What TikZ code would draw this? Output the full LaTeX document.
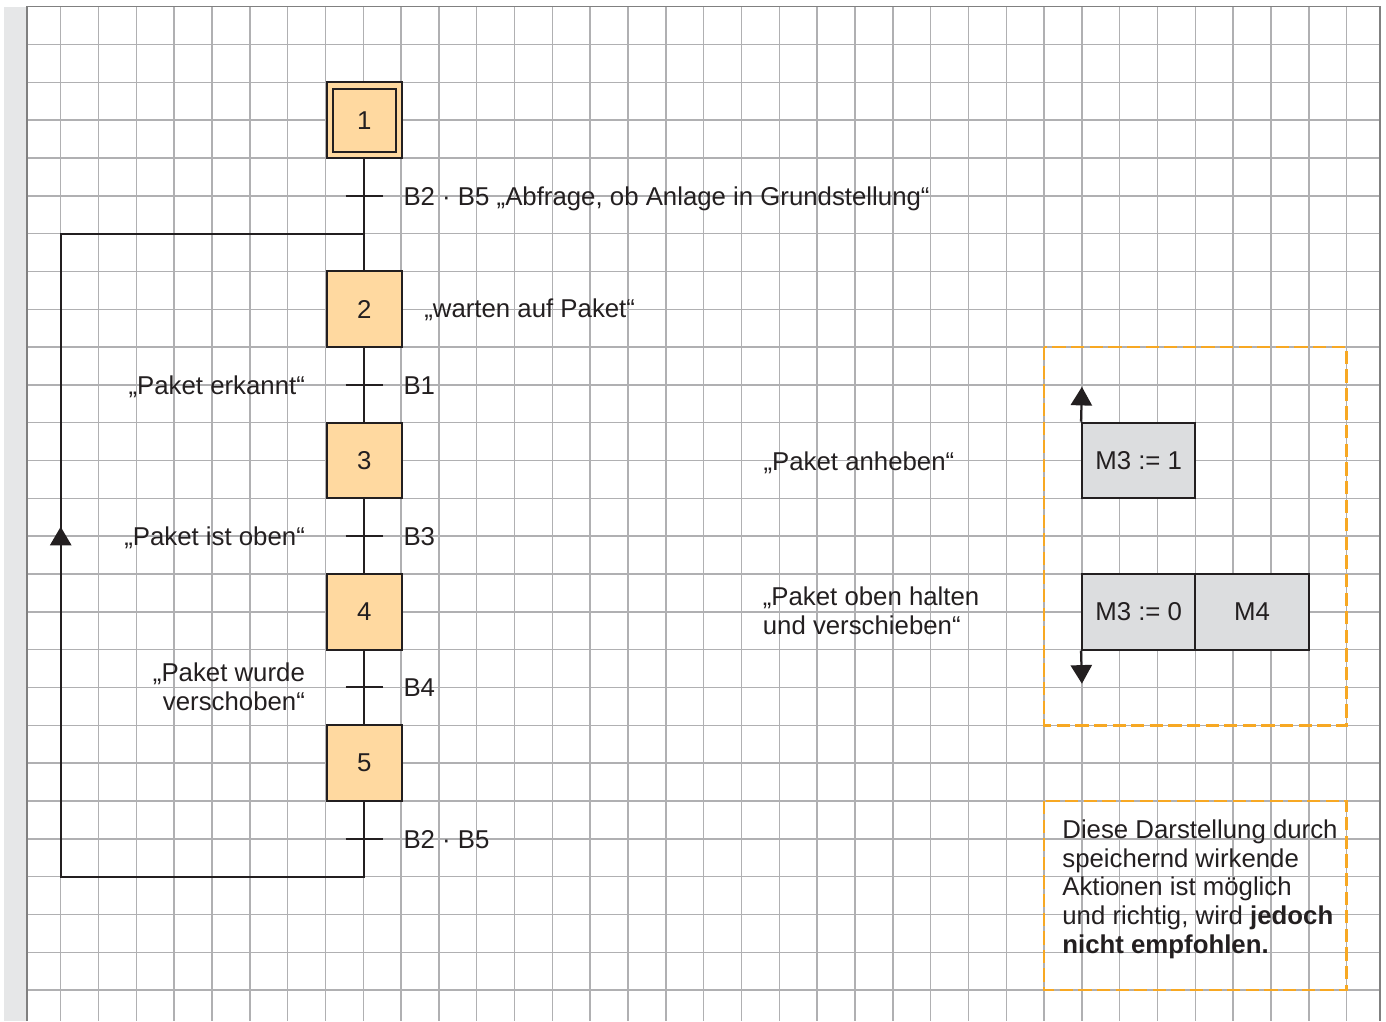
\documentclass[tikz,border=0pt]{standalone}
\usepackage{fontspec}
\setmainfont{Liberation Sans}
\usetikzlibrary{arrows.meta}
\definecolor{ink}{HTML}{231F20}
\definecolor{stepfill}{HTML}{FFD9A0}
\definecolor{actfill}{HTML}{DCDDDF}
\definecolor{dashorange}{HTML}{F7A823}
\definecolor{gridgray}{HTML}{B0B0B2}
\definecolor{stripgray}{HTML}{E6E7E8}
\begin{document}
\begin{tikzpicture}[x=0.5cm,y=0.5cm,
  font=\fontsize{9.7}{10.8}\selectfont, text=ink,
  link/.style={draw=ink, line width=0.75pt},
  stepbox/.style={draw=ink, fill=stepfill, line width=0.75pt, minimum size=1cm, inner sep=0pt},
  actbox/.style={draw=ink, fill=actfill, line width=0.75pt, minimum width=1.5cm, minimum height=1cm, inner sep=0pt},
  frame/.style={draw=dashorange, line width=0.9pt, dash pattern=on 5pt off 2pt},
  tip/.style={-{Triangle[width=8pt,length=7pt]}},
  lbl/.style={inner sep=0pt}]
\useasboundingbox (-1.605,0.177) rectangle (35.04,-26.82);
% paper
\fill[stripgray] (-1.5,0) rectangle (-0.891,-26.82);
\foreach \x in {0,...,34} \draw[gridgray, line width=0.55pt] (\x,0) -- (\x,-26.82);
\foreach \y in {0,...,26} \draw[gridgray, line width=0.55pt] (-0.891,-\y) -- (34.88,-\y);
\draw[gray, line width=0.6pt] (-0.891,-26.82) -- (-0.891,0) -- (34.88,0) -- (34.88,-26.82);
% steps
\node[stepbox] (s1) at (8.03,-3) {1};
\node[draw=ink, line width=0.75pt, minimum size=0.83cm, inner sep=0pt] (s1i) at (s1) {};
\node[stepbox] (s2) at (8.03,-8) {2};
\node[stepbox] (s3) at (8.03,-12) {3};
\node[stepbox] (s4) at (8.03,-16) {4};
\node[stepbox] (s5) at (8.03,-20) {5};
\coordinate (j1) at (8.03,-6);
\coordinate (j5) at (8.03,-23);
\coordinate (c1) at (0,-23);
\coordinate (c2) at (0,-6);
\coordinate (a1) at (0,-13.75);
\draw[link] (s1) -- (s2);
\draw[link] (s2) -- (s3);
\draw[link] (s3) -- (s4);
\draw[link] (s4) -- (s5);
\draw[link] (s5) -- (j5) -- (c1) -- (c2) -- (j1);
\draw[link, tip] (c1) -- (a1);
% transitions
\foreach \y in {5,10,14,18,22} \draw[link] (7.53,-\y) -- (8.53,-\y);
\node[lbl, anchor=base west] (t1) at (9.05,-5.25) {B2 · B5 „Abfrage, ob Anlage in Grundstellung“};
\node[lbl, anchor=base west] (t2) at (9.05,-10.25) {B1};
\node[lbl, anchor=base west] (t3) at (9.05,-14.25) {B3};
\node[lbl, anchor=base west] (t4) at (9.05,-18.25) {B4};
\node[lbl, anchor=base west] (t5) at (9.05,-22.25) {B2 · B5};
\node[lbl, anchor=base east] (d2) at (6.47,-10.25) {„Paket erkannt“};
\node[lbl, anchor=base east] (d3) at (6.47,-14.25) {„Paket ist oben“};
\node[lbl, anchor=north east, align=right] (d4) at (6.47,-17.33) {„Paket wurde\\verschoben“};
\node[lbl, anchor=base west] (w2) at (9.6,-8.22) {„warten auf Paket“};
% actions
\draw[frame] (26,-9) rectangle (34,-19);
\node[lbl, anchor=base west] (w3) at (18.57,-12.25) {„Paket anheben“};
\node[lbl, anchor=north west, align=left] (w4) at (18.55,-15.32) {„Paket oben halten\\und verschieben“};
\node[actbox] (m31) at (28.5,-12) {M3 := 1};
\node[actbox] (m30) at (28.5,-16) {M3 := 0};
\node[actbox] (m4) at (31.5,-16) {M4};
\coordinate (up) at (27,-10.05);
\coordinate (dn) at (27,-17.9);
\draw[link, tip] (m31.north west) -- (up);
\draw[link, tip] (m30.south west) -- (dn);
% note
\draw[frame] (26,-21) rectangle (34,-26);
\node[lbl, anchor=north west, align=left] (note) at (26.47,-21.48)
  {Diese Darstellung durch\\speichernd wirkende\\Aktionen ist möglich\\und richtig, wird \textbf{jedoch}\\\textbf{nicht empfohlen.}};
\end{tikzpicture}
\end{document}
